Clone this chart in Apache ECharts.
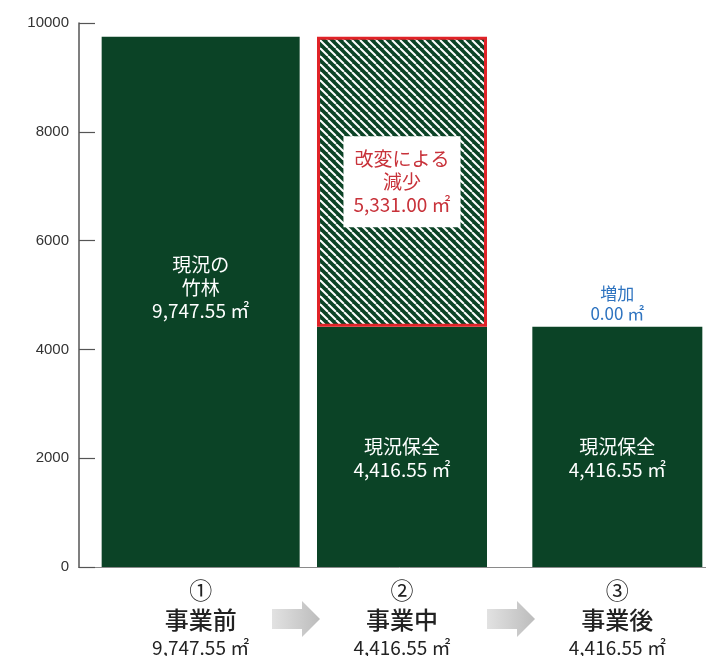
<!DOCTYPE html>
<html>
<head>
<meta charset="utf-8">
<script src="https://cdn.jsdelivr.net/npm/echarts@6/dist/echarts.min.js"></script>
<style>
	html, body { margin: 0; padding: 0; background: #fff; }
	#main { width: 706px; height: 656px; }
</style>
</head>
<body>
<div id="main"></div>
<script>
	// data
	var stepNums = ['①', '②', '③'];
	var stepNames = ['事業前', '事業中', '事業後'];
	var stepAreas = ['9,747.55 ㎡', '4,416.55 ㎡', '4,416.55 ㎡'];
	var keepValues = [9747.55, 4416.55, 4416.55];
	var keepNames = ['現況の\n竹林', '現況保全', '現況保全'];
	var lossValues = ['-', 5331.00, '-'];
	var lossText = '改変による\n減少\n5,331.00 ㎡';
	var gainValues = ['-', '-', 0.00];
	var gainText = '増加\n0.00 ㎡';
	var yTicks = { min: 0, max: 10000, step: 2000 };

	var green = '#0b4326';
	var font = '"Noto Sans CJK JP", "Liberation Sans", sans-serif';

	// 斜線パターン
	var tile = document.createElement('canvas');
	tile.width = 8;
	tile.height = 8;
	var ctx = tile.getContext('2d');
	ctx.fillStyle = green;
	ctx.fillRect(0, 0, 8, 8);
	ctx.strokeStyle = '#ffffff';
	ctx.lineWidth = 2;
	for(var k = -1; k <= 1; k++) {
		ctx.beginPath();
		ctx.moveTo(k * 8, 0);
		ctx.lineTo(k * 8 + 8, 8);
		ctx.stroke();
	}

	// 事業前 (1本目) は幅広、2・3本目は別スタック
	var keepOffsets = [[0, -14], [0, 11], [0, 11]];
	function keepItem(i) {
		return {
			value: keepValues[i],
			label: {
				offset: keepOffsets[i],
				formatter: keepNames[i] + '\n' + stepAreas[i]
			}
		};
	}
	var keepFirst = keepValues.map(function(v, i) { return i === 0 ? keepItem(i) : '-'; });
	var keepRest = keepValues.map(function(v, i) { return i === 0 ? '-' : keepItem(i); });

	var keepLabel = {
		show: true,
		position: 'inside',
		color: '#ffffff',
		fontSize: 19,
		lineHeight: 23,
		fontFamily: font
	};

	function richSet(pad) {
		return {
			n: { fontSize: 23, color: '#222', fontFamily: font, lineHeight: 28, padding: pad },
			t: { fontSize: 24, color: '#222', fontFamily: font, fontWeight: 500, lineHeight: 32, padding: pad },
			a: { fontSize: 19, color: '#222', fontFamily: font, lineHeight: 24, padding: pad }
		};
	}
	var richA = richSet([0, 0, 0, 0]);
	var richB = richSet([0, 28, 0, 0]);

	var myChart = echarts.init(document.getElementById('main'));
	var option = {
		backgroundColor: '#ffffff',
		animation: false,
		grid: {
			left: 93,
			top: 23,
			right: -33,
			bottom: 89,
			outerBoundsMode: 'none'
		},
		xAxis: {
			type: 'category',
			data: stepNames,
			axisLine: {
				lineStyle: { color: '#8a8a8a', width: 1 }
			},
			axisTick: { show: false },
			axisLabel: {
				margin: 9,
				formatter: function(value, idx) {
					var s = idx === 0 ? '' : 'b';
					return '{n' + s + '|' + stepNums[idx] + '}\n{t' + s + '|' + value + '}\n{a' + s + '|' + stepAreas[idx] + '}';
				},
				rich: {
					n: richA.n, t: richA.t, a: richA.a,
					nb: richB.n, tb: richB.t, ab: richB.a
				}
			}
		},
		yAxis: {
			type: 'value',
			min: yTicks.min,
			max: yTicks.max,
			interval: yTicks.step,
			offset: 14,
			axisLine: {
				show: true,
				lineStyle: { color: '#555', width: 1.5 }
			},
			axisTick: {
				show: true,
				inside: true,
				length: 16,
				lineStyle: { color: '#555', width: 1.2 }
			},
			axisLabel: {
				margin: 10,
				fontSize: 15,
				color: '#333',
				fontFamily: '"Liberation Sans", sans-serif',
				formatter: function(v) {
					return String(v);
				}
			},
			splitLine: { show: false }
		},
		series: [{
			name: '現況保全',
			type: 'bar',
			stack: 'rest',
			barWidth: 170,
			barGap: '-100%',
			itemStyle: { color: green },
			label: keepLabel,
			data: keepRest
		}, {
			name: '減少',
			type: 'bar',
			stack: 'rest',
			barWidth: 170,
			barGap: '-100%',
			itemStyle: {
				color: { image: tile, repeat: 'repeat' },
				borderColor: '#e02328',
				borderWidth: 3
			},
			label: {
				show: true,
				position: 'inside',
				formatter: lossText,
				color: '#c8323a',
				fontSize: 19,
				lineHeight: 23,
				fontFamily: font,
				backgroundColor: '#ffffff',
				padding: [12, 10, 10, 10]
			},
			data: lossValues
		}, {
			name: '増加',
			type: 'bar',
			stack: 'rest',
			barWidth: 170,
			barGap: '-100%',
			itemStyle: { color: green },
			label: {
				show: true,
				position: 'top',
				distance: 3,
				formatter: gainText,
				color: '#2f74c0',
				fontSize: 17,
				lineHeight: 20,
				fontFamily: font
			},
			data: gainValues
		}, {
			name: '現況の竹林',
			type: 'bar',
			stack: 'first',
			barWidth: 198,
			barGap: '-100%',
			itemStyle: { color: green },
			label: keepLabel,
			data: keepFirst
		}],
		graphic: [272, 487].map(function(x0) {
			return {
				type: 'polygon',
				shape: {
					points: [[x0, 609], [x0 + 30, 609], [x0 + 30, 601], [x0 + 48, 619], [x0 + 30, 637], [x0 + 30, 629], [x0, 629]]
				},
				style: {
					fill: new echarts.graphic.LinearGradient(0, 0, 1, 0, [
						{ offset: 0, color: '#e2e2e2' },
						{ offset: 1, color: '#bcbcbc' }
					])
				}
			};
		}).concat([{
			type: 'line',
			shape: { x1: 78, y1: 567.5, x2: 93, y2: 567.5 },
			style: { stroke: '#8a8a8a', lineWidth: 1 }
		}])
	};
	myChart.setOption(option);

	window.onresize = function() {
		myChart.resize();
	}
</script>
</body>
</html>
